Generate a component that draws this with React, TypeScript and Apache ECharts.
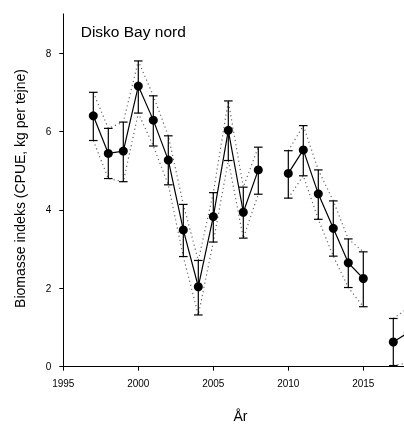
import React, { useEffect, useRef } from "react";
import * as echarts from "echarts";

const years = [1997, 1998, 1999, 2000, 2001, 2002, 2003, 2004, 2005, 2006, 2007, 2008, 2009, 2010, 2011, 2012, 2013, 2014, 2015, 2016, 2017, 2018];
const values: (number | null)[] = [6.4, 5.44, 5.5, 7.16, 6.29, 5.27, 3.49, 2.04, 3.83, 6.03, 3.94, 5.02, null, 4.93, 5.53, 4.41, 3.53, 2.65, 2.25, null, 0.63, 0.87];
const upper: (number | null)[] = [7.0, 6.08, 6.24, 7.8, 6.91, 5.89, 4.14, 2.71, 4.44, 6.78, 4.58, 5.6, null, 5.51, 6.15, 5.02, 4.23, 3.26, 2.93, null, 1.23, 1.5];
const lower: (number | null)[] = [5.77, 4.8, 4.72, 6.47, 5.63, 4.64, 2.81, 1.32, 3.18, 5.26, 3.28, 4.4, null, 4.3, 4.87, 3.76, 2.82, 2.02, 1.53, null, 0.03, 0.1];
const xTicks = { min: 1995, max: 2020, interval: 5 };
const yTicks = { min: 0, max: 9, interval: 2 };
const yTickValues = [0, 2, 4, 6, 8];
const title = "Disko Bay nord";
const xTitle = "År";
const yTitle = "Biomasse indeks (CPUE, kg per tejne)";

const FONT = "'Liberation Sans', Arial, sans-serif";

export default function App() {
  const ref = useRef<HTMLDivElement>(null);
  useEffect(() => {
    if (!ref.current) return;
    const chart = echarts.init(ref.current, undefined, { renderer: "svg" });
    const pts = (arr: (number | null)[]) => years.map((y, i) => [y, arr[i]]);
    const errData = years
      .map((y, i) => [y, lower[i], upper[i]])
      .filter((d) => d[1] != null && d[2] != null);
    chart.setOption({
      animation: false,
      grid: { left: 63.3, right: 1.7, top: 13.9, bottom: 58.3, outerBoundsMode: "none", containLabel: false },
      xAxis: {
        type: "value",
        min: xTicks.min,
        max: xTicks.max,
        interval: xTicks.interval,
        splitLine: { show: false },
        axisLine: { lineStyle: { color: "#000", width: 1 } },
        axisTick: { length: 4, lineStyle: { color: "#000" } },
        axisLabel: {
          color: "#000",
          fontSize: 10,
          fontFamily: FONT,
          margin: 12,
          showMaxLabel: false,
          formatter: (v: number) => String(v),
        },
      },
      yAxis: {
        type: "value",
        min: yTicks.min,
        max: yTicks.max,
        interval: yTicks.interval,
        splitLine: { show: false },
        axisLine: { show: true, lineStyle: { color: "#000", width: 1 } },
        axisTick: { show: true, length: 4, lineStyle: { color: "#000" }, customValues: yTickValues },
        axisLabel: {
          color: "#000",
          fontSize: 10,
          fontFamily: FONT,
          margin: 12,
          customValues: yTickValues,
          formatter: (v: number) => String(v),
        },
      },
      graphic: [
        {
          type: "text",
          left: 80.7,
          top: 23,
          style: { text: title, fontSize: 15.5, fontFamily: FONT, fill: "#000" },
        },
        {
          type: "text",
          x: 240.5,
          y: 416,
          style: { text: xTitle, fontSize: 14, fontFamily: FONT, fill: "#000", align: "center", verticalAlign: "middle" },
        },
        {
          type: "text",
          x: 20,
          y: 188.5,
          rotation: Math.PI / 2,
          style: { text: yTitle, fontSize: 14, fontFamily: FONT, fill: "#000", align: "center", verticalAlign: "middle" },
        },
      ],
      series: [
        {
          type: "line",
          data: pts(upper),
          symbol: "none",
          connectNulls: false,
          lineStyle: { color: "#666", width: 1.2, type: [1.2, 3] },
          z: 1,
        },
        {
          type: "line",
          data: pts(lower),
          symbol: "none",
          connectNulls: false,
          lineStyle: { color: "#666", width: 1.2, type: [1.2, 3] },
          z: 1,
        },
        {
          type: "custom",
          data: errData,
          z: 2,
          renderItem: (params: any, api: any) => {
            const x = api.value(0);
            const lo = api.coord([x, api.value(1)]);
            const hi = api.coord([x, api.value(2)]);
            const w = 4.3;
            const st = { stroke: "#000", lineWidth: 1.2 };
            return {
              type: "group",
              children: [
                { type: "line", shape: { x1: lo[0], y1: lo[1], x2: hi[0], y2: hi[1] }, style: st },
                { type: "line", shape: { x1: hi[0] - w, y1: hi[1], x2: hi[0] + w, y2: hi[1] }, style: st },
                { type: "line", shape: { x1: lo[0] - w, y1: lo[1], x2: lo[0] + w, y2: lo[1] }, style: st },
              ],
            };
          },
        },
        {
          type: "line",
          data: pts(values),
          symbol: "circle",
          symbolSize: 9,
          connectNulls: false,
          itemStyle: { color: "#000" },
          lineStyle: { color: "#000", width: 1.2 },
          z: 3,
        },
      ],
    });
    return () => chart.dispose();
  }, []);
  return (
    <div style={{ position: "fixed", left: 0, top: 0, width: 404, height: 425, overflow: "hidden" }}>
      <div ref={ref} style={{ width: 440, height: 425 }} />
    </div>
  );
}
